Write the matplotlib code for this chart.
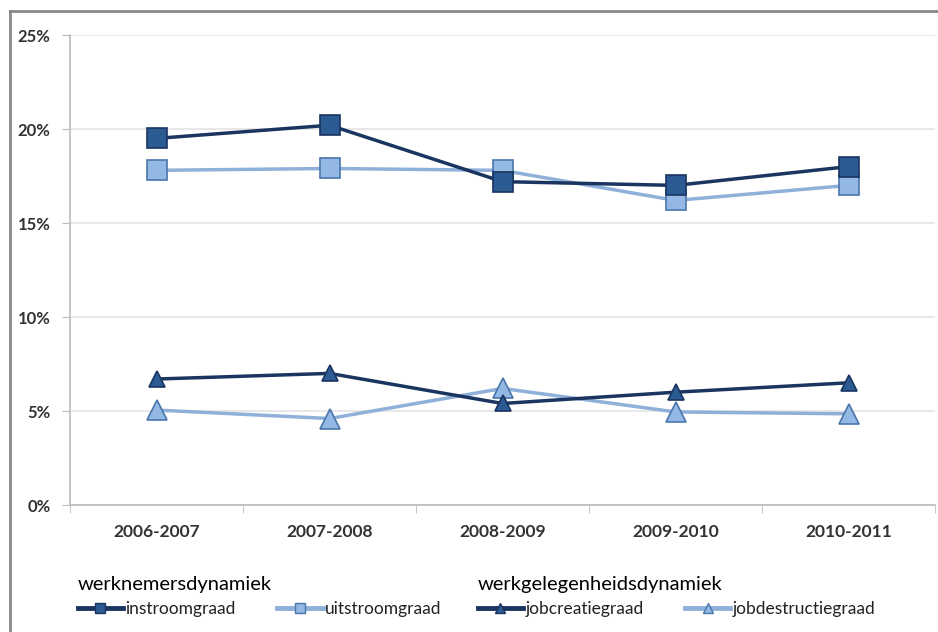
import numpy as np
import matplotlib.pyplot as plt
from matplotlib.lines import Line2D
from matplotlib.ticker import FuncFormatter

plt.rcParams['font.family'] = ['Lato', 'DejaVu Sans']

# Data (percentages)
periods = ['2006-2007', '2007-2008', '2008-2009', '2009-2010', '2010-2011']
instroom = [19.5, 20.2, 17.2, 17.0, 18.0]
uitstroom = [17.8, 17.9, 17.8, 16.2, 17.0]
jobcreatie = [6.7, 7.0, 5.4, 6.0, 6.5]
jobdestructie = [5.05, 4.6, 6.2, 4.95, 4.85]

dark_line = '#1a3560'
dark_fill = '#2c5b94'
light_line = '#8eb0d9'
light_fill = '#93b8e3'
light_edge = '#4a76ac'

fig = plt.figure(figsize=(9.38, 6.32), dpi=100)
ax = fig.add_axes([70/938, 127/632, 865/938, 470/632])

x = np.arange(len(periods))

# light series first so dark ones sit on top where they overlap
ax.plot(x, uitstroom, color=light_line, lw=2.5, marker='s', ms=14,
        mfc=light_fill, mec=light_edge, mew=1.2, zorder=3)
ax.plot(x, instroom, color=dark_line, lw=2.5, marker='s', ms=14,
        mfc=dark_fill, mec=dark_line, mew=1.2, zorder=4)
ax.plot(x, jobdestructie, color=light_line, lw=2.5, marker='^', ms=14,
        mfc=light_fill, mec=light_edge, mew=1.2, zorder=3)
ax.plot(x, jobcreatie, color=dark_line, lw=2.5, marker='^', ms=12,
        mfc=dark_fill, mec=dark_line, mew=1.2, zorder=4)

ax.set_xlim(-0.5, 4.5)
ax.set_ylim(0, 25)
ax.set_yticks([0, 5, 10, 15, 20, 25])
ax.yaxis.set_major_formatter(FuncFormatter(lambda v, p: f'{int(v)}%'))
ax.grid(axis='y', color='#e4e4e4', lw=1.2)
ax.set_axisbelow(True)

ax.set_xticks(x)
ax.set_xticklabels(periods, fontsize=12.5, fontweight='bold', color='#333333')
ax.tick_params(axis='x', length=0, pad=14)
ax.set_xticks(np.arange(-0.5, 5, 1), minor=True)
ax.tick_params(axis='x', which='minor', length=6, color='#bbbbbb', direction='out')
ax.tick_params(axis='y', length=6, color='#bbbbbb', labelsize=12,
               labelcolor='#333333', pad=8)
for lbl in ax.get_yticklabels():
    lbl.set_fontweight('bold')

for s in ['top', 'right']:
    ax.spines[s].set_visible(False)
for s in ['left', 'bottom']:
    ax.spines[s].set_color('#bbbbbb')
    ax.spines[s].set_linewidth(1.2)

# legend in two groups
h_in = Line2D([], [], color=dark_line, lw=3.5, marker='s', ms=7, mfc=dark_fill, mec=dark_line)
h_uit = Line2D([], [], color=light_line, lw=3.5, marker='s', ms=7, mfc=light_fill, mec=light_edge)
h_jc = Line2D([], [], color=dark_line, lw=3.5, marker='^', ms=7, mfc=dark_fill, mec=dark_line)
h_jd = Line2D([], [], color=light_line, lw=3.5, marker='^', ms=7, mfc=light_fill, mec=light_edge)

leg_kw = dict(ncol=2, frameon=False, fontsize=12.5, handlelength=2.6, handletextpad=0.15,
              columnspacing=2.4, loc='upper left', alignment='left',
              title_fontproperties={'size': 14.5})
leg1 = fig.legend([h_in, h_uit], ['instroomgraad', 'uitstroomgraad'],
                  title='werknemersdynamiek', bbox_to_anchor=(62/938, 1 - 560/632), **leg_kw)
leg2 = fig.legend([h_jc, h_jd], ['jobcreatiegraad', 'jobdestructiegraad'],
                  title='werkgelegenheidsdynamiek', bbox_to_anchor=(462/938, 1 - 560/632), **leg_kw)
for lg in (leg1, leg2):
    for t in lg.get_texts():
        t.set_color('#222222')

# outer frame (top and left edge)
fig.add_artist(Line2D([10/938, 1], [1 - 11/632, 1 - 11/632], color='#888888', lw=2))
fig.add_artist(Line2D([10/938, 10/938], [0, 1 - 11/632], color='#888888', lw=2))

fig.savefig('out.png', dpi=100)
